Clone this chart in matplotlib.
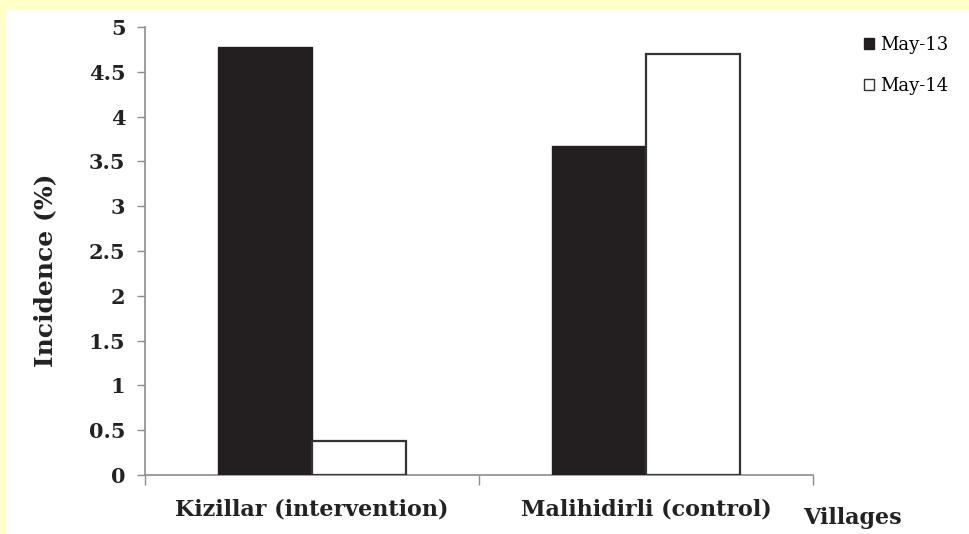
import matplotlib.pyplot as plt
import numpy as np
from matplotlib.patches import Rectangle, Patch

villages = ['Kizillar (intervention)', 'Malihidirli (control)']
may13 = [4.78, 3.67]
may14 = [0.38, 4.70]
series_labels = ['May-13', 'May-14']

plt.rcParams['font.family'] = 'DejaVu Serif'

fig = plt.figure(figsize=(9.7, 5.34), dpi=100, facecolor='#FFFFC8')
# white page on top of the yellow border
fig.patches.append(Rectangle((6/970, 0), 1, 1 - 9/534, transform=fig.transFigure,
                             facecolor='white', edgecolor='none', zorder=0))

ax = fig.add_axes([145/970, 1 - 475/534, 668/970, 448/534])
ax.set_zorder(2)
ax.set_facecolor('white')

x = np.arange(len(villages))
w = 0.281
ax.bar(x - w/2, may13, w, color='#231F20', edgecolor='#231F20', linewidth=1, zorder=3)
ax.bar(x + w/2, may14, w, color='white', edgecolor='#333333', linewidth=1.6, zorder=3)

ax.set_xlim(-0.5, 1.5)
ax.set_ylim(0, 5)
ax.set_yticks(np.arange(0, 5.01, 0.5))
ax.set_yticklabels(['0', '0.5', '1', '1.5', '2', '2.5', '3', '3.5', '4', '4.5', '5'],
                   fontsize=15, fontweight='bold', color='#222222')

# category boundary ticks, labels centered in between
ax.set_xticks([-0.5, 0.5, 1.5])
ax.set_xticklabels([])
ax.tick_params(axis='x', length=7, width=1, color='#8c8c8c', direction='out')
ax.tick_params(axis='y', length=6, width=1, color='#8c8c8c', direction='out', pad=8)
for xi, name in zip(x, villages):
    ax.text(xi, -0.39, name, ha='center', va='center', fontsize=16, fontweight='bold',
            color='#222222', transform=ax.transData)

for s in ['top', 'right']:
    ax.spines[s].set_visible(False)
for s in ['left', 'bottom']:
    ax.spines[s].set_color('#8c8c8c')
    ax.spines[s].set_linewidth(1.2)

fig.text(45/970, 1 - 270/534, 'Incidence (%)', rotation=90, ha='center', va='center',
         fontsize=18, fontweight='bold', color='#222222')
fig.text(852/970, 1 - 518/534, 'Villages', ha='center', va='center',
         fontsize=16, fontweight='bold', color='#222222')

handles = [Patch(facecolor='#231F20', edgecolor='#231F20'),
           Patch(facecolor='white', edgecolor='#333333')]
fig.legend(handles, series_labels, loc='upper left', bbox_to_anchor=(848/970, 1 - 20/534),
           frameon=False, fontsize=13, handlelength=0.55, handleheight=0.55,
           handletextpad=0.35, labelspacing=1.25)

fig.savefig('out.png', dpi=100, facecolor=fig.get_facecolor())
